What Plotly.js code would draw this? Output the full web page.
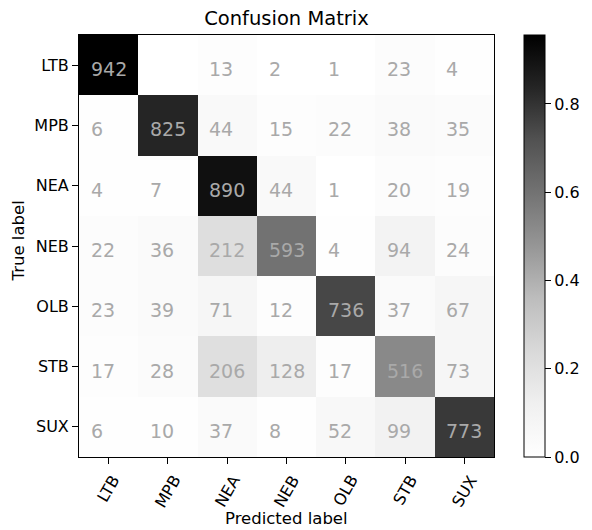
<!DOCTYPE html>
<html>
<head>
<meta charset="utf-8">
<script src="https://cdn.plot.ly/plotly-3.0.1.min.js"></script>
<style>html,body{margin:0;padding:0;background:#fff;}</style>
</head>
<body>
<div id="chart" style="width:592px;height:530px;"></div>
<script>
var classes = ["LTB", "MPB", "NEA", "NEB", "OLB", "STB", "SUX"];
var rowLTB = [942, 0, 13, 2, 1, 23, 4];
var rowMPB = [6, 825, 44, 15, 22, 38, 35];
var rowNEA = [4, 7, 890, 44, 1, 20, 19];
var rowNEB = [22, 36, 212, 593, 4, 94, 24];
var rowOLB = [23, 39, 71, 12, 736, 37, 67];
var rowSTB = [17, 28, 206, 128, 17, 516, 73];
var rowSUX = [6, 10, 37, 8, 52, 99, 773];
var counts = [rowLTB, rowMPB, rowNEA, rowNEB, rowOLB, rowSTB, rowSUX];

var FONT = "DejaVu Sans, sans-serif";

// row-normalised values for colour
var z = counts.map(function (r) {
  var s = r.reduce(function (a, b) { return a + b; }, 0);
  return r.map(function (v) { return v / s; });
});
var zmax = Math.max.apply(null, z.map(function (r) { return Math.max.apply(null, r); }));

var greys = [
  [0.0, "#ffffff"], [0.125, "#f0f0f0"], [0.25, "#d9d9d9"], [0.375, "#bdbdbd"],
  [0.5, "#969696"], [0.625, "#737373"], [0.75, "#525252"], [0.875, "#252525"], [1.0, "#000000"]
];

var trace = {
  type: "heatmap",
  x: classes,
  y: classes,
  z: z,
  zmin: 0,
  zmax: zmax,
  colorscale: greys,
  hoverinfo: "skip",
  colorbar: {
    x: 1.0711, xanchor: "left", xref: "paper",
    y: 0.5, yanchor: "middle", len: 1, lenmode: "fraction",
    thickness: 21, thicknessmode: "pixels",
    xpad: 0, ypad: 0,
    outlinewidth: 1, outlinecolor: "#000",
    ticks: "outside", ticklen: 6, tickwidth: 1, tickcolor: "#000",
    tick0: 0, dtick: 0.2, tickformat: ".1f",
    tickfont: { family: FONT, size: 16, color: "#000" }
  }
};

var annotations = [];
counts.forEach(function (r, i) {
  r.forEach(function (v, j) {
    if (v === 0) return;
    annotations.push({
      x: classes[j], y: classes[i], xref: "x", yref: "y",
      text: String(v), showarrow: false,
      xanchor: "left", yanchor: "middle", xshift: -18, yshift: -4,
      borderpad: 0, borderwidth: 0,
      font: { family: FONT, size: 19, color: "#a9a9a9" }
    });
  });
});
classes.forEach(function (c) {
  annotations.push({
    x: c, y: 0, xref: "x", yref: "paper",
    text: c, showarrow: false, textangle: -60,
    xanchor: "center", yanchor: "top", yshift: -14,
    borderpad: 0,
    font: { family: FONT, size: 16, color: "#000" }
  });
});
annotations.push({
  x: 0.5, y: -0.145, xref: "paper", yref: "paper",
  text: "Predicted label", showarrow: false, xanchor: "center", yanchor: "middle",
  font: { family: FONT, size: 16.5, color: "#000" }
});
annotations.push({
  x: -0.1457, y: 0.512, xref: "paper", yref: "paper",
  text: "True label", showarrow: false, textangle: -90, xanchor: "center", yanchor: "middle",
  font: { family: FONT, size: 16.5, color: "#000" }
});

var layout = {
  width: 592, height: 530,
  margin: { l: 79, r: 91, t: 35, b: 73, pad: 0 },
  paper_bgcolor: "#fff", plot_bgcolor: "#fff",
  title: {
    text: "Confusion Matrix",
    x: 0.5, xref: "paper", xanchor: "center",
    y: 1 - 18.5 / 530, yref: "container", yanchor: "middle",
    font: { family: FONT, size: 19.5, color: "#000" }
  },
  xaxis: {
    type: "category", showgrid: false, zeroline: false,
    showline: true, mirror: true, linecolor: "#000", linewidth: 1,
    ticks: "outside", ticklen: 6, tickcolor: "#000",
    showticklabels: false, fixedrange: true
  },
  yaxis: {
    type: "category", autorange: "reversed", showgrid: false, zeroline: false,
    showline: true, mirror: true, linecolor: "#000", linewidth: 1,
    ticks: "outside", ticklen: 6, tickcolor: "#000",
    tickfont: { family: FONT, size: 16, color: "#000" },
    fixedrange: true
  },
  annotations: annotations,
  showlegend: false
};

Plotly.newPlot("chart", [trace], layout, { displayModeBar: false, staticPlot: true });
</script>
</body>
</html>
